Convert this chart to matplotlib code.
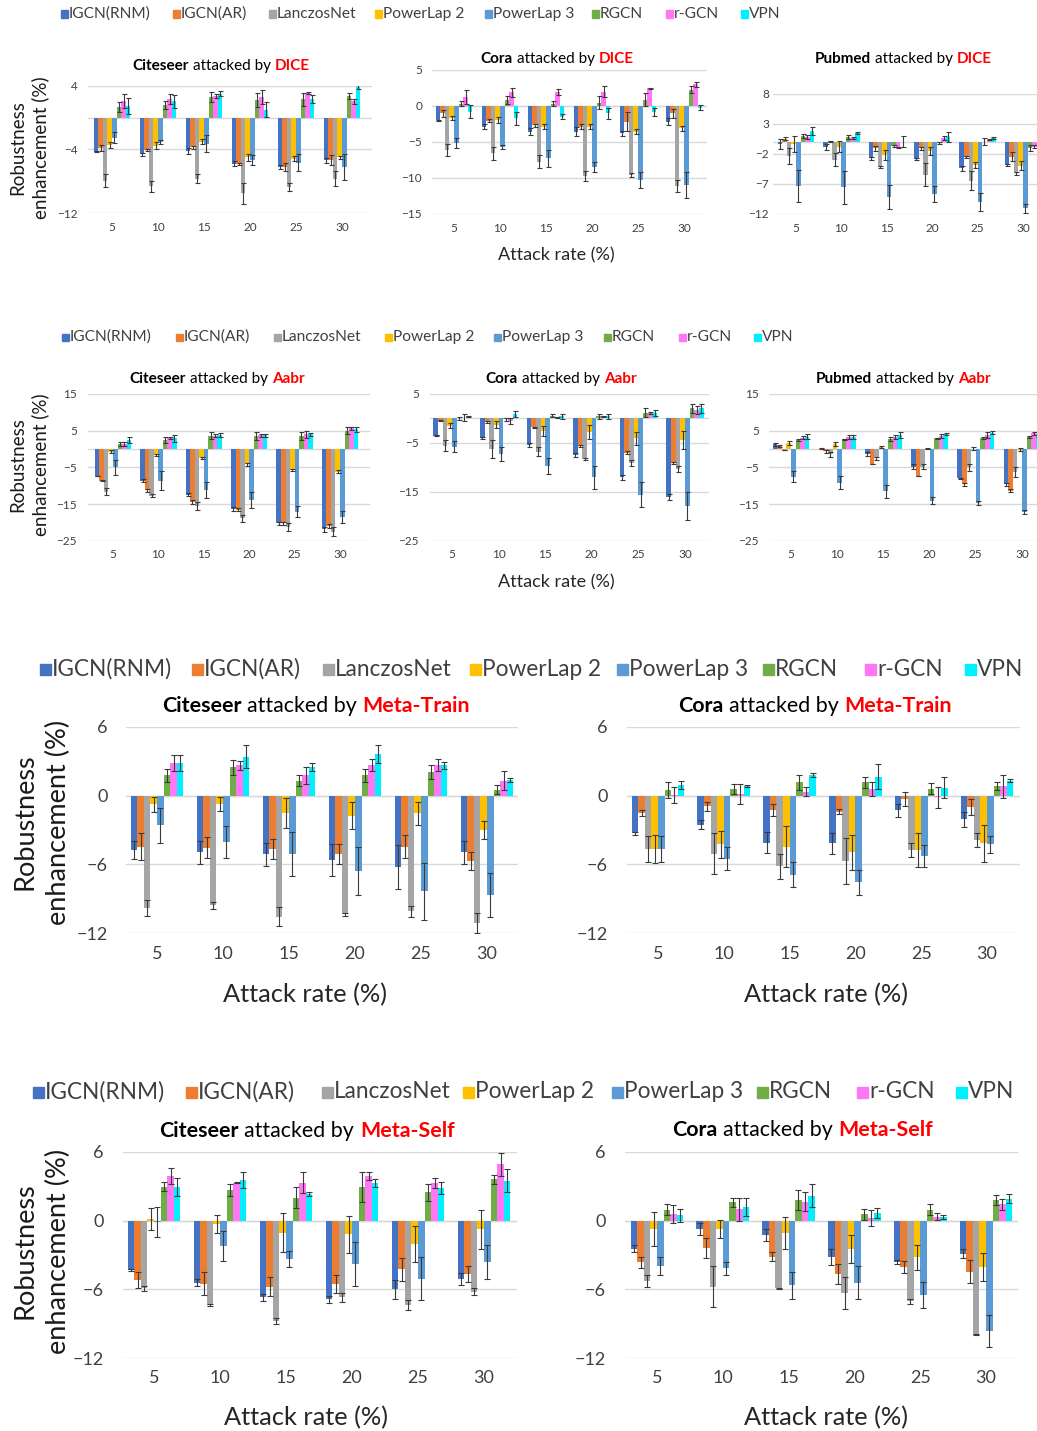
import numpy as np
import matplotlib.pyplot as plt
from matplotlib.patches import Rectangle

W, H = 1037, 1431
plt.rcParams['font.family'] = ['Lato', 'DejaVu Sans']

methods = ['IGCN(RNM)', 'IGCN(AR)', 'LanczosNet', 'PowerLap 2', 'PowerLap 3', 'RGCN', 'r-GCN', 'VPN']
colors = ['#4472C4', '#ED7D31', '#A5A5A5', '#FFC000', '#5B9BD5', '#70AD47', '#FF77F5', '#00F0FF']
rates = ['5', '10', '15', '20', '25', '30']

# each row = one attack rate, columns follow the method order above
dice_citeseer = [[-4.3, -3.8, -7.9, -3.4, -2.5, 1.3, 2.05, 1.45],
                 [-4.6, -4.1, -8.6, -3.5, -3.05, 1.6, 2.3, 2.05],
                 [-4.2, -3.7, -7.65, -3.0, -3.25, 2.6, 2.7, 3.0],
                 [-5.8, -5.85, -9.5, -5.0, -5.35, 2.2, 2.6, 1.0],
                 [-6.2, -6.2, -8.7, -5.15, -5.65, 2.3, 3.05, 2.3],
                 [-5.35, -5.3, -7.65, -5.0, -6.2, 2.7, 2.05, 3.85]]
dice_citeseer_err = [[0.05, 0.4, 0.8, 0.4, 0.7, 0.6, 0.9, 1.0],
                     [0.2, 0.1, 0.7, 0.4, 0.3, 0.5, 0.6, 0.8],
                     [0.4, 0.2, 0.6, 0.3, 1.1, 0.6, 0.3, 0.3],
                     [0.3, 0.1, 1.3, 0.4, 0.6, 0.9, 0.9, 0.9],
                     [0.2, 0.5, 0.5, 0.3, 1.1, 0.8, 0.1, 0.5],
                     [0.3, 0.6, 0.9, 0.2, 1.6, 0.4, 0.3, 0.3]]

dice_cora = [[-2.05, -1.05, -6.15, -1.75, -5.2, 0.3, 1.25, -0.85],
             [-2.9, -2.1, -6.6, -2.0, -5.7, 0.8, 1.85, -1.75],
             [-3.6, -2.7, -7.8, -2.9, -7.3, 0.3, 1.95, -1.5],
             [-3.6, -2.9, -9.75, -2.9, -8.5, 0.4, 1.95, -1.05],
             [-3.85, -2.2, -9.6, -3.6, -10.3, 0.8, 2.4, -0.85],
             [-2.2, -1.05, -11.15, -3.15, -11.0, 2.25, 2.95, -0.25]]
dice_cora_err = [[0.05, 0.5, 0.8, 0.3, 0.7, 0.3, 1.0, 0.9],
                 [0.3, 0.2, 0.9, 0.4, 0.3, 0.5, 0.6, 0.9],
                 [0.5, 0.2, 0.9, 0.4, 1.2, 0.4, 0.4, 0.3],
                 [0.6, 0.3, 0.7, 0.4, 0.7, 0.9, 0.8, 0.8],
                 [0.3, 1.3, 0.3, 0.3, 1.1, 0.9, 0.1, 0.6],
                 [0.5, 0.6, 0.8, 0.3, 1.8, 0.5, 0.3, 0.3]]

dice_pubmed = [[-0.35, 0.55, -2.35, -0.35, -7.35, 1.0, 0.8, 1.85],
               [-0.8, 0.1, -3.0, -0.8, -7.6, 0.8, 0.65, 1.45],
               [-2.75, -1.05, -4.2, -2.15, -9.15, -0.65, -0.9, 0.05],
               [-2.9, -1.1, -5.5, -1.5, -8.7, -0.2, 0.65, 0.8],
               [-4.4, -2.55, -6.5, -3.85, -10.1, 0.05, 0.35, 0.6],
               [-3.85, -2.45, -5.25, -3.95, -11.1, -1.05, -0.8, -0.5]]
dice_pubmed_err = [[0.9, 0.3, 1.3, 1.4, 2.7, 0.4, 0.4, 0.7],
                   [0.5, 0.1, 1.1, 0.9, 2.7, 0.4, 0.2, 0.2],
                   [0.2, 0.4, 0.1, 0.8, 2.0, 0.2, 0.1, 0.9],
                   [0.2, 0.3, 1.9, 0.7, 1.4, 0.1, 0.4, 0.8],
                   [0.4, 0.2, 1.6, 0.5, 1.5, 0.6, 0.1, 0.2],
                   [0.1, 0.8, 0.3, 0.7, 0.8, 0.5, 0.2, 0.2]]

aabr_citeseer = [[-7.35, -8.6, -11.6, -0.7, -5.0, 1.35, 1.4, 2.45],
                 [-8.7, -11.2, -12.7, -1.6, -8.6, 2.45, 2.9, 2.9],
                 [-12.5, -14.4, -15.5, -2.55, -11.2, 3.6, 3.6, 3.8],
                 [-16.4, -16.5, -18.9, -4.2, -13.9, 3.55, 3.8, 3.7],
                 [-20.3, -20.3, -21.2, -5.7, -17.1, 3.55, 4.0, 4.0],
                 [-21.9, -21.0, -22.5, -6.2, -18.6, 5.0, 5.6, 5.35]]
aabr_citeseer_err = [[0.1, 0.2, 0.9, 0.3, 2.1, 0.6, 0.5, 0.7],
                     [0.4, 0.4, 0.4, 0.3, 2.6, 0.7, 0.3, 1.0],
                     [0.4, 0.5, 1.0, 0.3, 2.2, 1.0, 0.4, 0.6],
                     [0.5, 0.4, 1.0, 0.3, 2.2, 1.0, 0.4, 0.3],
                     [0.5, 0.5, 1.1, 0.3, 1.5, 1.0, 1.0, 0.4],
                     [0.6, 0.6, 1.3, 0.4, 1.7, 1.0, 0.5, 0.6]]

aabr_cora = [[-3.55, -0.55, -5.65, -1.55, -5.8, -0.05, 0.1, 0.35],
             [-3.95, -0.7, -6.3, -1.35, -7.3, -0.2, -0.55, 0.9],
             [-5.45, -1.85, -6.8, -2.6, -9.7, 0.55, 0.15, 0.35],
             [-7.5, -5.65, -8.35, -2.85, -12.1, 0.35, 0.35, 0.35],
             [-12.1, -7.0, -9.2, -4.1, -15.6, 1.15, 1.15, 1.0],
             [-16.0, -9.2, -10.4, -4.4, -17.9, 2.0, 1.7, 2.0]]
aabr_cora_err = [[0.1, 0.1, 1.1, 0.5, 1.1, 0.3, 0.7, 0.2],
                 [0.2, 0.2, 1.8, 0.7, 1.4, 0.3, 0.6, 0.6],
                 [0.4, 0.1, 0.9, 1.1, 1.6, 0.3, 0.1, 0.5],
                 [0.5, 0.2, 0.2, 1.4, 2.4, 0.5, 0.2, 0.5],
                 [0.5, 0.3, 0.6, 1.3, 2.5, 1.0, 0.2, 0.6],
                 [0.6, 0.2, 0.6, 1.8, 2.9, 0.9, 0.8, 0.9]]

aabr_pubmed = [[1.25, 0.75, -0.25, 1.6, -7.55, 2.45, 3.1, 3.35],
               [0.1, -0.65, -1.45, 1.35, -9.2, 2.65, 3.35, 3.35],
               [-1.45, -4.1, -2.55, 0.45, -11.5, 2.65, 3.35, 3.8],
               [-4.8, -7.35, -4.8, 0.2, -14.1, 2.9, 3.6, 4.1],
               [-8.0, -9.65, -5.0, 0.1, -14.8, 3.1, 3.8, 4.45],
               [-9.65, -11.35, -6.2, -0.25, -17.1, 3.35, 4.25, 3.8]]
aabr_pubmed_err = [[0.3, 0.3, 0.1, 0.6, 1.5, 0.3, 0.5, 0.7],
                   [0.1, 0.5, 0.7, 0.6, 1.8, 0.2, 0.5, 0.5],
                   [0.5, 0.1, 0.5, 0.3, 1.8, 0.5, 0.5, 0.8],
                   [0.6, 0.1, 0.7, 0.2, 0.9, 0.1, 0.5, 0.2],
                   [0.2, 0.5, 0.9, 0.5, 0.5, 0.3, 0.9, 0.4],
                   [0.4, 0.5, 1.4, 0.4, 0.5, 0.3, 0.5, 0.4]]

train_citeseer = [[-4.75, -4.45, -9.8, -0.75, -2.6, 1.75, 2.8, 2.8],
                  [-4.95, -4.55, -9.55, -0.75, -4.05, 2.45, 2.65, 3.4],
                  [-5.1, -4.65, -10.55, -1.55, -5.1, 1.3, 1.75, 2.5],
                  [-5.65, -5.1, -10.35, -1.75, -6.6, 1.75, 2.65, 3.6],
                  [-6.25, -4.45, -10.1, -1.55, -8.35, 2.05, 2.65, 2.65],
                  [-4.95, -5.7, -11.1, -3.0, -8.65, 0.5, 1.3, 1.35]]
train_citeseer_err = [[0.8, 1.2, 0.7, 0.65, 1.5, 0.6, 0.7, 0.7],
                      [1.0, 0.9, 0.3, 0.6, 1.4, 0.65, 0.4, 1.0],
                      [1.0, 0.9, 0.8, 1.3, 1.9, 0.45, 0.7, 0.35],
                      [1.4, 0.9, 0.1, 1.2, 2.1, 0.55, 0.5, 0.8],
                      [1.9, 1.0, 0.45, 1.0, 2.5, 0.6, 0.5, 0.3],
                      [1.0, 0.8, 0.9, 0.8, 1.9, 0.4, 0.8, 0.15]]

train_cora = [[-3.3, -1.55, -4.65, -4.65, -4.65, 0.45, 0.05, 0.95],
              [-2.55, -0.95, -5.05, -4.25, -5.5, 0.6, 0.15, 0.85],
              [-4.1, -1.25, -6.15, -4.45, -6.9, 1.15, 0.35, 1.8],
              [-4.15, -1.4, -5.7, -4.95, -7.55, 1.15, 0.55, 1.65],
              [-1.3, -0.3, -4.75, -4.75, -5.25, 0.6, -0.15, 0.7],
              [-2.05, -1.0, -3.85, -4.15, -4.25, 0.85, 0.8, 1.3]]
train_cora_err = [[0.1, 0.25, 1.1, 1.2, 1.1, 0.7, 0.7, 0.35],
                  [0.4, 0.4, 1.8, 1.2, 1.0, 0.45, 0.9, 0.1],
                  [0.9, 0.5, 1.1, 1.8, 1.1, 0.65, 0.4, 0.15],
                  [0.9, 0.2, 2.0, 1.5, 1.1, 0.45, 0.6, 1.1],
                  [0.55, 0.6, 0.6, 1.5, 0.95, 0.5, 0.9, 0.9],
                  [0.65, 0.7, 0.6, 1.6, 0.75, 0.35, 1.0, 0.1]]

self_citeseer = [[-4.3, -5.2, -5.9, 0.15, -0.15, 2.95, 3.9, 2.95],
                 [-5.4, -5.5, -7.35, -0.3, -2.2, 2.65, 3.3, 3.55],
                 [-6.7, -5.75, -8.75, -1.05, -3.35, 2.0, 3.3, 2.3],
                 [-6.85, -5.55, -6.7, -1.2, -3.8, 2.95, 3.9, 3.25],
                 [-6.0, -4.25, -7.35, -2.05, -5.05, 2.45, 3.25, 2.85],
                 [-5.1, -4.65, -6.2, -0.75, -3.6, 3.6, 4.9, 3.45]]
self_citeseer_err = [[0.1, 0.7, 0.2, 0.95, 1.3, 0.4, 0.7, 0.8],
                     [0.3, 1.0, 0.05, 0.8, 1.3, 0.55, 0.05, 0.7],
                     [0.3, 0.8, 0.3, 1.7, 0.7, 0.9, 0.9, 0.15],
                     [0.3, 0.8, 0.4, 1.6, 1.9, 1.3, 0.35, 0.35],
                     [0.8, 1.0, 0.4, 1.6, 1.9, 0.75, 0.45, 0.55],
                     [0.5, 0.7, 0.3, 1.7, 1.5, 0.4, 1.0, 1.0]]

self_cora = [[-2.45, -3.65, -5.25, -0.75, -3.95, 0.95, 0.55, 0.45],
             [-0.75, -2.4, -5.75, -0.75, -4.15, 1.6, 1.0, 1.2],
             [-1.25, -3.15, -5.9, -1.1, -5.65, 1.8, 1.65, 2.15],
             [-3.2, -4.65, -6.3, -2.5, -5.4, 0.55, 0.2, 0.65],
             [-3.6, -4.05, -7.05, -3.2, -6.5, 0.95, 0.35, 0.3],
             [-2.9, -4.45, -9.95, -4.05, -9.6, 1.8, 1.4, 1.9]]
self_cora_err = [[0.3, 0.5, 0.5, 1.5, 0.75, 0.5, 0.8, 0.6],
                 [0.55, 0.9, 1.8, 0.8, 0.55, 0.4, 1.0, 0.8],
                 [0.5, 0.4, 0.05, 1.4, 1.2, 0.85, 0.8, 1.0],
                 [0.7, 0.9, 1.4, 1.2, 1.4, 0.5, 0.7, 0.45],
                 [0.15, 0.55, 0.2, 1.1, 1.15, 0.45, 0.3, 0.2],
                 [0.4, 1.0, 0.05, 1.2, 1.4, 0.45, 0.5, 0.4]]

fig = plt.figure(figsize=(W / 100, H / 100), dpi=100)
renderer = fig.canvas.get_renderer()


def fx(x):
    return x / W


def fy(y):
    return 1 - y / H


def bar_panel(means, errs, gl, centers, top, bottom, ylim, yticks, tsize, ypad, xpad, cap):
    # gl: gridline left/right in px, centers: px of first and last category
    step = (centers[1] - centers[0]) / 5
    ax = fig.add_axes([fx(gl[0]), fy(bottom), (gl[1] - gl[0]) / W, (bottom - top) / H])
    m = np.array(means).T
    e = np.array(errs).T
    x = np.arange(6)
    w = 0.1
    for i in range(8):
        ax.bar(x + (i - 3.5) * w, m[i], w, color=colors[i], zorder=3,
               yerr=e[i], error_kw=dict(ecolor='#3a3a3a', elinewidth=0.8,
                                       capsize=cap, capthick=0.8, zorder=4))
    ax.set_xlim((gl[0] - centers[0]) / step, 5 + (gl[1] - centers[1]) / step)
    ax.set_ylim(*ylim)
    ax.set_yticks(yticks)
    ax.set_xticks(x)
    ax.set_xticklabels(rates)
    ax.grid(axis='y', color='#d9d9d9', lw=1, zorder=0)
    ax.axhline(0, color='#d9d9d9', lw=1, zorder=1)
    for s in ax.spines.values():
        s.set_visible(False)
    ax.tick_params(axis='both', length=0, labelsize=tsize, colors='#404040')
    ax.tick_params(axis='y', pad=ypad * 0.72)
    ax.tick_params(axis='x', pad=xpad * 0.72)
    return ax


def panel_title(cx, cy, name, attack, size):
    parts = [(name, 'bold', 'black'), ('attacked by', 'normal', 'black'), (attack, 'bold', '#FF0000')]
    texts = [fig.text(0, 0, s, fontsize=size, weight=wt, color=c, va='center') for s, wt, c in parts]
    widths = [t.get_window_extent(renderer).width for t in texts]
    gap = size * 100 / 72 * 0.26
    x = cx - (sum(widths) + 2 * gap) / 2
    for t, wd in zip(texts, widths):
        t.set_position((fx(x), fy(cy)))
        x += wd + gap


def legend_row(xs, y, size, box):
    for xx, name, c in zip(xs, methods, colors):
        fig.patches.append(Rectangle((fx(xx - box / 2), fy(y + box / 2)), box / W, box / H,
                                     transform=fig.transFigure, color=c, figure=fig))
        fig.text(fx(xx + box / 2 + 1.5), fy(y), name, fontsize=size, color='#404040',
                 va='center', ha='left')


def y_label(x1, x2, cy, size):
    fig.text(fx(x1), fy(cy), 'Robustness', rotation=90, fontsize=size, ha='center', va='center', color='#1a1a1a')
    fig.text(fx(x2), fy(cy), 'enhancement (%)', rotation=90, fontsize=size, ha='center', va='center', color='#1a1a1a')


def x_label(cx, cy, size):
    fig.text(fx(cx), fy(cy), 'Attack rate (%)', fontsize=size, ha='center', va='center', color='#262626')


# ---- row 1: DICE ----
legend_row([64, 176, 272, 378, 488, 595, 669, 744], 14, 11.2, 7)
bar_panel(dice_citeseer, dice_citeseer_err, (88, 372), (112, 342), 85.7, 213.3,
          (-12, 4), [-12, -4, 4], 8.5, 10, 9, 1.8)
bar_panel(dice_cora, dice_cora_err, (432, 707), (454, 684), 69.7, 213.7,
          (-15, 5), [-15, -10, -5, 0, 5], 8.5, 10, 9, 1.8)
bar_panel(dice_pubmed, dice_pubmed_err, (773, 1045), (796, 1023), 94, 213.7,
          (-12, 8), [-12, -7, -2, 3, 8], 8.5, 4, 9, 1.8)
panel_title(221, 66, 'Citeseer', 'DICE', 11)
panel_title(557, 59, 'Cora', 'DICE', 11)
panel_title(903, 59, 'Pubmed', 'DICE', 11)
y_label(18, 40, 148, 13.5)
x_label(556, 255, 13)

# ---- row 2: Aabr ----
legend_row([65, 179, 277, 388, 497, 607, 682, 757], 337, 11.2, 7)
bar_panel(aabr_citeseer, aabr_citeseer_err, (88, 370), (113, 340), 394, 540.7,
          (-25, 15), [-25, -15, -5, 5, 15], 8.5, 11, 8, 1.8)
bar_panel(aabr_cora, aabr_cora_err, (430, 709), (452, 685), 393.7, 540.7,
          (-25, 5), [-25, -15, -5, 5], 8.5, 11, 8, 1.8)
bar_panel(aabr_pubmed, aabr_pubmed_err, (769, 1045), (791, 1022), 394, 540.7,
          (-25, 15), [-25, -15, -5, 5, 15], 8.5, 10, 8, 1.8)
panel_title(217, 379, 'Citeseer', 'Aabr', 11)
panel_title(561, 379, 'Cora', 'Aabr', 11)
panel_title(903, 379, 'Pubmed', 'Aabr', 11)
y_label(18, 40, 465, 13.5)
x_label(556, 582, 13)

# ---- row 3: Meta-Train ----
legend_row([45, 197, 328, 475, 622, 768, 870, 970], 669, 16.3, 11)
bar_panel(train_citeseer, train_citeseer_err, (126, 518), (157, 487), 726.7, 933.3,
          (-12, 6), [-12, -6, 0, 6], 13, 18, 13, 2.5)
bar_panel(train_cora, train_cora_err, (627, 1020), (658, 987), 726.7, 933.3,
          (-12, 6), [-12, -6, 0, 6], 13, 19, 13, 2.5)
panel_title(316, 706, 'Citeseer', 'Meta-Train', 15.4)
panel_title(815, 706, 'Cora', 'Meta-Train', 15.4)
y_label(25, 58, 822, 19.5)
x_label(305, 995, 18.3)
x_label(826, 995, 18.3)

# ---- row 4: Meta-Self ----
legend_row([38, 191, 327, 468, 617, 762, 862, 961], 1092, 16.3, 11)
bar_panel(self_citeseer, self_citeseer_err, (123, 517), (154, 484), 1151.7, 1358.3,
          (-12, 6), [-12, -6, 0, 6], 13, 19, 12, 2.5)
bar_panel(self_cora, self_cora_err, (625, 1018), (657, 986), 1151.7, 1358.3,
          (-12, 6), [-12, -6, 0, 6], 13, 19, 12, 2.5)
panel_title(307, 1131, 'Citeseer', 'Meta-Self', 15.4)
panel_title(803, 1130, 'Cora', 'Meta-Self', 15.4)
y_label(25, 58, 1251, 19.5)
x_label(306, 1418, 18.3)
x_label(826, 1418, 18.3)

fig.savefig('out.png', dpi=100)
